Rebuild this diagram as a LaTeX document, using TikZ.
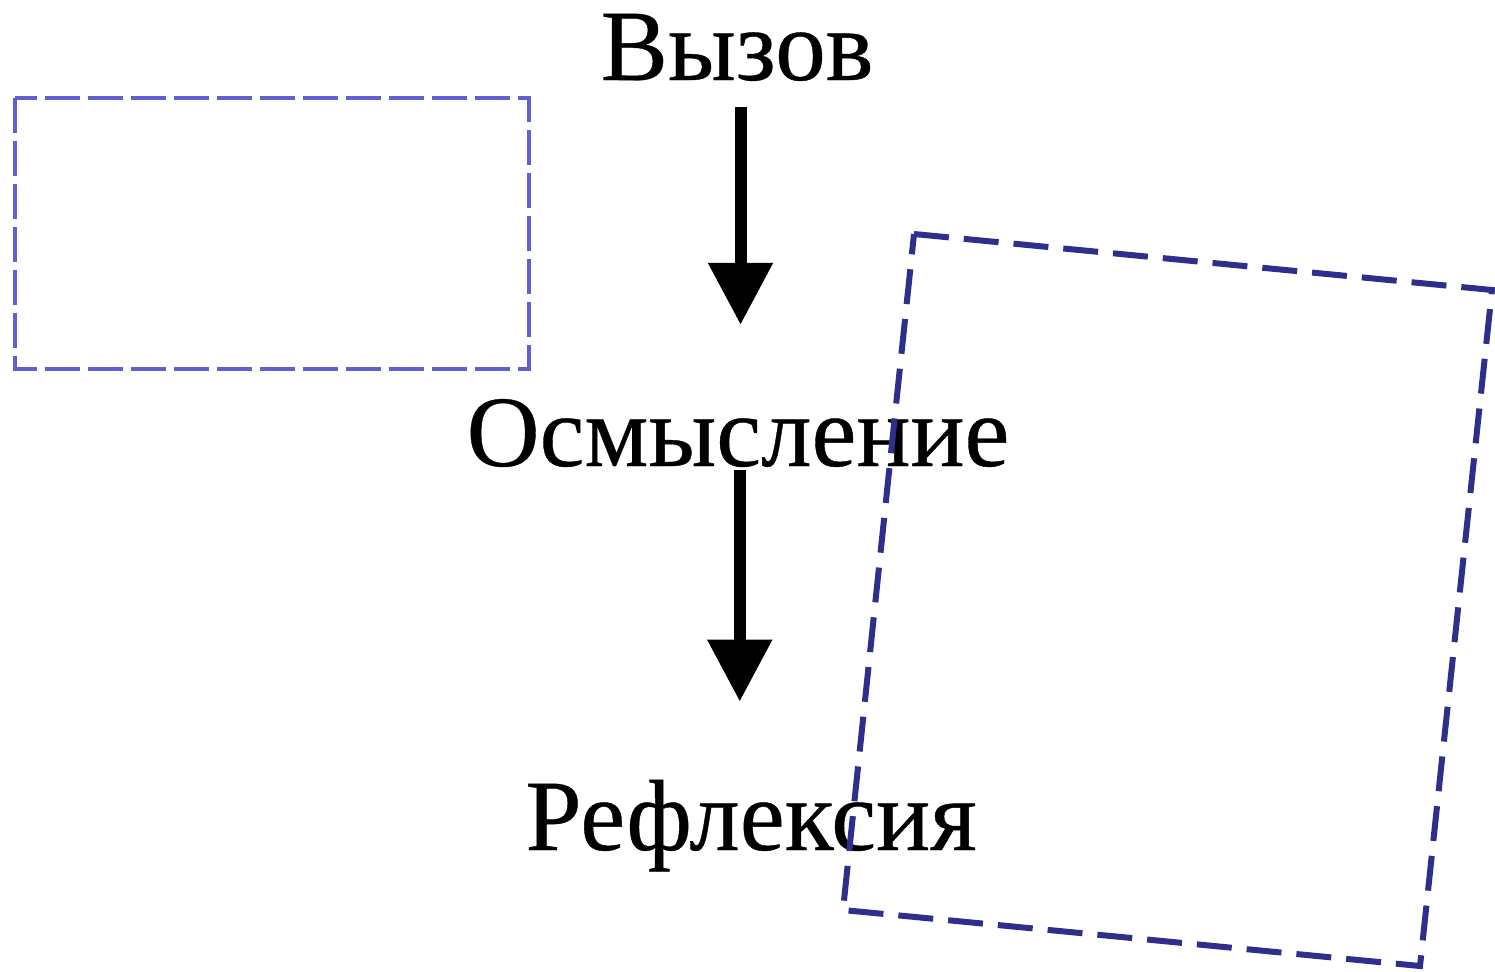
\documentclass[tikz,border=0pt]{standalone}
\usepackage{fontspec}
\setmainfont[FakeBold=0.4]{Liberation Serif}
\usetikzlibrary{arrows.meta, positioning}

\definecolor{paleblue}{RGB}{96,96,210}
\definecolor{navyblue}{RGB}{46,46,140}

\begin{document}
\begin{tikzpicture}[x=0.02cm, y=-0.02cm,
    stage/.style={inner sep=0pt, anchor=base, font=\fontsize{57.5}{62}\selectfont},
    flow/.style={line width=0.24cm, -{Triangle[width=1.24cm, length=1.24cm]}}]
    \useasboundingbox (0,0) rectangle (1495,971);

    % Stages
    \node[stage] (call) at (737,80) {Вызов};
    \node[stage] (comp) at (738,466) {Осмысление};
    \node[stage] (refl) at (751,850) {Рефлексия};

    % Arrows between stages
    \draw[flow, shorten <=0.52cm, shorten >=1.48cm] ([xshift=2]call.south) -- ([xshift=2]call.south |- comp.north);
    \draw[flow, shorten <=0.06cm, shorten >=1.56cm] ([xshift=1]comp.south) -- ([xshift=1]comp.south |- refl.north);

    % Dashed frames
    \draw[paleblue, line width=0.07cm, dash pattern=on 0.7cm off 0.16cm] (15,98) rectangle (529,369);
    \draw[navyblue, line width=0.12cm, dash pattern=on 0.7cm off 0.3cm] (914,234) -- (1492,290) -- (1420,966) -- (843,910) -- cycle;
\end{tikzpicture}
\end{document}
